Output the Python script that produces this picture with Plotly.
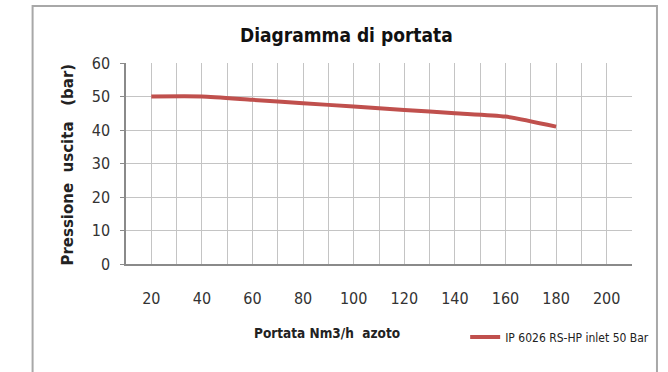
import plotly.graph_objects as go

# Flow curve: outlet pressure vs nitrogen flow
portata = [20, 40, 60, 80, 100, 120, 140, 160, 180]
pressione = [50, 50, 49, 48, 47, 46, 45, 44, 41]
serie_nome = "IP 6026 RS-HP inlet 50 Bar"

x_grid_vals = [10, 20, 30, 40, 50, 60, 70, 80, 90, 100, 110,
               120, 130, 140, 150, 160, 170, 180, 190, 200, 210]
x_tick_labels = ["", "20", "", "40", "", "60", "", "80", "", "100", "",
                 "120", "", "140", "", "160", "", "180", "", "200", ""]
y_tick_vals = [0, 10, 20, 30, 40, 50, 60]

titolo = "Diagramma di portata"
titolo_x = "Portata Nm3/h  azoto"
titolo_y = "Pressione  uscita   (bar)"

NARROW = "DejaVu Sans Condensed, sans-serif"
W, H = 668, 372
L, R, T, B = 125.5, 36, 63, 108
pw, ph = W - L - R, H - T - B


def px(x):
    return (x - L) / pw


def py(y):
    return (H - B - y) / ph


fig = go.Figure()
fig.add_trace(go.Scatter(
    x=portata, y=pressione, mode="lines", name=serie_nome,
    line=dict(color="#c0504d", width=4, shape="spline", smoothing=0.6),
))

axis_col = "#8a8a8a"
grid_col = "#c4c4c4"

fig.update_layout(
    width=W, height=H,
    margin=dict(l=L, r=R, t=T, b=B),
    paper_bgcolor="white", plot_bgcolor="white",
    showlegend=True,
    legend=dict(x=px(465), y=py(337), xanchor="left", yanchor="middle",
                font=dict(family=NARROW, size=12, color="#222"),
                bgcolor="rgba(0,0,0,0)", itemwidth=30),
    xaxis=dict(range=[10, 210], tickmode="array", tickvals=x_grid_vals, ticktext=x_tick_labels,
               showgrid=True, gridcolor=grid_col, gridwidth=1,
               showline=True, linecolor=axis_col, linewidth=1.5,
               ticks="outside", ticklen=19, tickcolor="rgba(0,0,0,0)",
               tickfont=dict(family=NARROW, size=16, color="#333"),
               zeroline=False),
    yaxis=dict(range=[0, 60], tickvals=y_tick_vals,
               showgrid=True, gridcolor=grid_col, gridwidth=1,
               showline=True, linecolor=axis_col, linewidth=1.5,
               ticks="outside", ticklen=4, tickcolor=axis_col, ticklabelstandoff=7,
               tickfont=dict(family=NARROW, size=16, color="#333"),
               zeroline=False),
    shapes=[
        # outer chart frame
        dict(type="rect", xref="paper", yref="paper",
             x0=px(32), x1=px(657), y0=py(400), y1=py(6),
             line=dict(color="#a8a8a8", width=2), fillcolor="rgba(0,0,0,0)", layer="below"),
    ],
    annotations=[
        dict(text="<b>" + titolo + "</b>", xref="paper", yref="paper", x=px(346), y=py(35),
             showarrow=False, xanchor="center", yanchor="middle",
             font=dict(family=NARROW, size=19, color="#111")),
        dict(text="<b>" + titolo_x + "</b>", xref="paper", yref="paper", x=px(327), y=py(333),
             showarrow=False, xanchor="center", yanchor="middle",
             font=dict(family=NARROW, size=13.5, color="#222")),
        dict(text="<b>" + titolo_y + "</b>", xref="paper", yref="paper", x=px(67), y=py(165),
             showarrow=False, xanchor="center", yanchor="middle", textangle=-90,
             font=dict(family="DejaVu Sans", size=15, color="#222")),
    ],
)

fig.write_html("out.html")
